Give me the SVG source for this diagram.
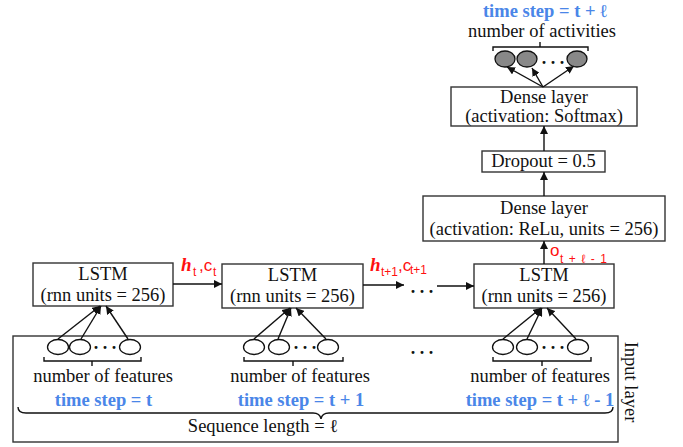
<svg xmlns="http://www.w3.org/2000/svg" width="683" height="447" viewBox="0 0 683 447">
<style>
.box{fill:#fff;stroke:#333;stroke-width:1.4}
.t{font-family:"Liberation Serif","Times New Roman",serif;font-size:18.5px;fill:#111;text-anchor:middle}
.b{font-family:"Liberation Serif","Times New Roman",serif;font-size:18.5px;font-weight:bold;fill:#4a86e8;text-anchor:middle}
.dots{font-family:"Liberation Serif",serif;font-size:18px;font-weight:bold;fill:#111;text-anchor:middle}
.in{fill:#fff;stroke:#111;stroke-width:1.3}
.out{fill:#888;stroke:#111;stroke-width:1.3}
.ln{stroke:#111;stroke-width:1.4;fill:none}
.ar{stroke:#111;stroke-width:1.4;fill:none;marker-end:url(#ah)}
.r{font-family:"Liberation Sans",Arial,sans-serif;fill:#ff1010;font-size:17px}
.rh{font-family:"Liberation Serif",serif;font-weight:bold;font-style:italic;fill:#ff1010;font-size:19px}
.rs{font-family:"Liberation Sans",Arial,sans-serif;fill:#ff1010;font-size:12px}
</style>
<defs>
<marker id="ah" viewBox="0 0 10 10" refX="10" refY="5" markerWidth="8" markerHeight="8" markerUnits="userSpaceOnUse" orient="auto">
<path d="M0,0 L10,5 L0,10 z" fill="#111"/>
</marker>
</defs>

<g id="input-layer">
<rect class="box" x="13" y="336" width="605" height="106"/>
<text class="t" transform="translate(625,382) rotate(90)">Input layer</text>
</g>

<g id="lstm1">
<rect class="box" x="33" y="263" width="140" height="43"/>
<text class="t" x="103" y="280">LSTM</text>
<text class="t" x="103" y="301">(rnn units = 256)</text>
</g>
<g id="lstm2">
<rect class="box" x="222" y="264" width="141" height="44"/>
<text class="t" x="292.5" y="281">LSTM</text>
<text class="t" x="292.5" y="302">(rnn units = 256)</text>
</g>
<g id="lstm3">
<rect class="box" x="474" y="264" width="140" height="44"/>
<text class="t" x="544" y="281">LSTM</text>
<text class="t" x="544" y="302">(rnn units = 256)</text>
</g>

<g id="dense-relu">
<rect class="box" x="423" y="196" width="242" height="45"/>
<text class="t" x="544" y="214">Dense layer</text>
<text class="t" x="544" y="235">(activation: ReLu, units = 256)</text>
</g>
<g id="dropout">
<rect class="box" x="482" y="151" width="123" height="21"/>
<text class="t" x="543.5" y="167">Dropout = 0.5</text>
</g>
<g id="dense-softmax">
<rect class="box" x="451" y="87" width="186" height="39"/>
<text class="t" x="544" y="103">Dense layer</text>
<text class="t" x="544" y="122">(activation: Softmax)</text>
</g>

<g id="output">
<text class="b" x="545" y="17">time step = t + ℓ</text>
<text class="t" x="542" y="37">number of activities</text>
<path class="ln" d="M493,51 L493,47 L588,47 L588,51 M540,47 L540,42"/>
<ellipse class="out" cx="505" cy="59" rx="10" ry="8"/>
<ellipse class="out" cx="527" cy="59" rx="10" ry="8"/>
<ellipse class="out" cx="577" cy="59" rx="10" ry="8"/>
<text class="dots" x="553" y="64">. . .</text>
</g>

<g id="features1">
<ellipse class="in" cx="58" cy="347" rx="10.5" ry="7.5"/>
<ellipse class="in" cx="80" cy="347" rx="10.5" ry="7.5"/>
<ellipse class="in" cx="130" cy="347" rx="10.5" ry="7.5"/>
<text class="dots" x="105" y="349">. . .</text>
<path class="ln" d="M44,357 L44,361 L141,361 L141,357 M92,361 L92,366"/>
<text class="t" x="103" y="382">number of features</text>
<text class="b" x="103.5" y="406">time step = t</text>
</g>
<g id="features2">
<ellipse class="in" cx="254" cy="347" rx="10.5" ry="7.5"/>
<ellipse class="in" cx="279" cy="347" rx="10.5" ry="7.5"/>
<ellipse class="in" cx="328" cy="347" rx="10.5" ry="7.5"/>
<text class="dots" x="305" y="349">. . .</text>
<path class="ln" d="M244,357 L244,361 L343,361 L343,357 M293,361 L293,366"/>
<text class="t" x="300" y="382">number of features</text>
<text class="b" x="301" y="406">time step = t + 1</text>
</g>
<g id="features3">
<ellipse class="in" cx="503" cy="347" rx="10.5" ry="7.5"/>
<ellipse class="in" cx="527" cy="347" rx="10.5" ry="7.5"/>
<ellipse class="in" cx="578" cy="347" rx="10.5" ry="7.5"/>
<text class="dots" x="553" y="349">. . .</text>
<path class="ln" d="M493,357 L493,361 L591,361 L591,357 M542,361 L542,366"/>
<text class="t" x="540" y="382">number of features</text>
<text class="b" x="540" y="406">time step = t + ℓ - 1</text>
</g>
<g id="middle-dots">
<text class="dots" x="422" y="354">. . .</text>
</g>
<g id="sequence">
<path class="ln" d="M18,407 Q18,413 26,413 L313,413 Q320,413 321,419 Q322,413 329,413 L605,413 Q613,413 613,407"/>
<text class="t" x="263" y="432">Sequence length = ℓ</text>
</g>

<g id="connectors">
<line class="ar" x1="58" y1="339" x2="100" y2="306"/>
<line class="ar" x1="81" y1="339" x2="101" y2="306"/>
<line class="ar" x1="128" y1="339" x2="106" y2="306"/>
<line class="ar" x1="254" y1="339" x2="290" y2="308"/>
<line class="ar" x1="278" y1="339" x2="291" y2="308"/>
<line class="ar" x1="326" y1="339" x2="296" y2="308"/>
<line class="ar" x1="503" y1="339" x2="541" y2="308"/>
<line class="ar" x1="527" y1="339" x2="542" y2="308"/>
<line class="ar" x1="576" y1="339" x2="547" y2="308"/>
<line class="ar" x1="173" y1="284" x2="222" y2="284"/>
<line class="ar" x1="363" y1="285" x2="404" y2="285"/>
<text class="dots" x="422" y="293">. . .</text>
<line class="ar" x1="437" y1="286" x2="474" y2="286"/>
<line class="ar" x1="544" y1="264" x2="544" y2="241"/>
<line class="ar" x1="544" y1="196" x2="544" y2="172"/>
<line class="ar" x1="544" y1="151" x2="544" y2="126"/>
<line class="ar" x1="543" y1="87" x2="507" y2="67"/>
<line class="ar" x1="543" y1="87" x2="532" y2="68"/>
<line class="ar" x1="543" y1="87" x2="574" y2="66"/>
<text x="181" y="271"><tspan class="rh">h</tspan><tspan class="rs" x="193" y="276">t</tspan><tspan class="r" x="199" y="271">,c</tspan><tspan class="rs" x="213" y="276">t</tspan></text>
<text x="370" y="271"><tspan class="rh">h</tspan><tspan class="rs" x="381" y="276">t+1</tspan><tspan class="r" x="398" y="271">,c</tspan><tspan class="rs" x="410" y="274">t+1</tspan></text>
<text x="550" y="256"><tspan class="r">o</tspan><tspan class="rs" x="560" y="263" font-size="14" textLength="47">t + ℓ - 1</tspan></text>
</g>
</svg>
